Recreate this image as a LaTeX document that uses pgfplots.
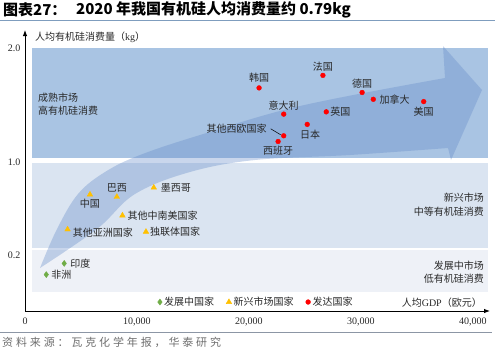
\documentclass[border=0pt]{standalone}
\usepackage{fontspec}
\setmainfont{Liberation Serif}
\newfontfamily\cjk{Noto Sans CJK SC}
\newfontfamily\cjkfoot{Noto Sans CJK SC}[LetterSpace=26]
\usepackage{pgfplots}
\usepackage{pgfplotstable}
\pgfplotsset{compat=1.18}
\usetikzlibrary{arrows.meta}
\definecolor{topband}{RGB}{169,196,227}
\definecolor{midband}{RGB}{218,228,241}
\definecolor{lowband}{RGB}{238,241,247}
\definecolor{arrowcol}{RGB}{100,138,200}
\definecolor{devgreen}{RGB}{112,173,71}
\definecolor{emyellow}{RGB}{255,192,0}
\definecolor{dvred}{RGB}{255,0,0}
\definecolor{titleline}{RGB}{127,157,190}
\definecolor{footline}{RGB}{140,150,165}
\definecolor{footgray}{RGB}{110,110,110}
\definecolor{txt}{RGB}{40,40,40}
\tikzset{lbl/.style={font=\cjk\fontsize{10}{12}\selectfont, text=txt, inner sep=1pt}}

% x: GDP per capita (EUR), y: silicone consumption per capita (kg)
\pgfplotstableread{
x y
1900 0.13
3500 0.17
}\developing
\pgfplotstableread{
x y
5800 0.72
8200 0.70
11500 0.78
8700 0.54
3800 0.42
10800 0.40
}\emerging
\pgfplotstableread{
x y
20900 1.65
26600 1.76
30100 1.61
31100 1.55
35600 1.53
23100 1.42
26900 1.44
25200 1.33
23100 1.23
22600 1.18
}\developed

\begin{document}
\begin{tikzpicture}
\useasboundingbox (0,0) rectangle (495pt,-351pt);
\begin{scope}[x=1pt,y=-1pt]
  \node[anchor=west, inner sep=0] at (3,10) {\cjk\bfseries\fontsize{15}{18}\selectfont 图表27：};
  \node[anchor=west, inner sep=0] at (76,10) {\cjk\bfseries\fontsize{15}{18}\selectfont 2020 年我国有机硅人均消费量约 0.79kg};
  \draw[titleline, line width=0.8pt] (0,20.5) -- (495,20.5);
  % bands
  \fill[topband] (32,48) rectangle (488,158);
  \fill[midband] (32,163) rectangle (488,248);
  \fill[lowband] (32,250) rectangle (488,292);
  % big arrow
  \fill[arrowcol, opacity=0.35] plot[smooth, tension=0.6] coordinates {(40,268) (57,229) (78,194) (105,172) (140,155) (200,135) (300,106) (445,78)}
     -- (443,46) -- (482,90) -- (451,160)
     -- plot[smooth, tension=0.6] coordinates {(448,148) (350,155) (255,160) (190,172) (135,194) (97,229) (40,268)} -- cycle;
  % region texts
  \node[lbl, anchor=west, align=left, font=\cjk\fontsize{10}{13}\selectfont] at (37,104.5) {成熟市场\\高有机硅消费};
  \node[lbl, anchor=east, align=right, font=\cjk\fontsize{10}{14}\selectfont] at (485,204.5) {新兴市场\\中等有机硅消费};
  \node[lbl, anchor=east, align=right, font=\cjk\fontsize{10}{13}\selectfont] at (485,272) {发展中市场\\低有机硅消费};
  % axis titles
  \node[lbl, anchor=west, inner sep=0] at (35,37) {人均有机硅消费量（{\rmfamily kg}）};
  \node[lbl, anchor=east, inner sep=0] at (482,303) {人均{\rmfamily GDP}（欧元）};
  % footer
  \draw[footline, line width=0.8pt] (0,332) -- (492,332);
  \node[anchor=west, inner sep=0, text=footgray] at (2,342) {\cjkfoot\fontsize{11}{13}\selectfont 资料来源：瓦克化学年报，华泰研究};
\end{scope}
\begin{axis}[
  at={(25pt,-311pt)}, anchor=south west,
  scale only axis, width=465pt, height=281pt,
  xmin=0, xmax=41520, ymin=0, ymax=2.158,
  y coord trafo/.code={\pgfmathparse{((#1)<=0.2)*280*(#1) + ((#1)>0.2)*((#1)<=1)*(56+116.25*((#1)-0.2)) + ((#1)>1)*(149+114*((#1)-1))}},
  y coord inv trafo/.code={\pgfmathparse{((#1)<=56)*(#1)/280 + ((#1)>56)*((#1)<=149)*(0.2+((#1)-56)/116.25) + ((#1)>149)*(1+((#1)-149)/114)}},
  axis lines=left,
  axis line style={-{Latex[length=6pt,width=4.5pt]}, black, line width=0.9pt},
  scaled x ticks=false,
  xtick={0,10000,20000,30000,40000},
  xticklabels={0,{10,000},{20,000},{30,000},{40,000}},
  ytick={0.2,1,2},
  yticklabels={0.2,1.0,2.0},
  major tick length=0pt,
  /pgf/number format/assume math mode=true,
  tick label style={font=\fontsize{10}{12}\selectfont, text=txt},
  xticklabel style={yshift=-3pt},
  yticklabel style={xshift=-1pt},
  clip=false,
  legend columns=3,
  legend style={at={(0.497,0.032)}, anchor=center, draw=none, fill=none,
    font=\cjk\fontsize{10}{12}\selectfont, text=txt,
    /tikz/every even column/.append style={column sep=10pt}},
]
\addplot[only marks, mark=diamond*, mark size=3pt, color=devgreen] table {\developing};
\addlegendentry{发展中国家}
\addplot[only marks, mark=triangle*, mark size=3.2pt, color=emyellow] table {\emerging};
\addlegendentry{新兴市场国家}
\addplot[only marks, mark=*, mark size=2.4pt, color=dvred] table {\developed};
\addlegendentry{发达国家}

% developing labels
\node[lbl, anchor=west, xshift=4pt] at (axis cs:1900,0.13) {非洲};
\node[lbl, anchor=west, xshift=5pt] at (axis cs:3500,0.17) {印度};
% emerging labels
\node[lbl, anchor=north, yshift=-3pt] at (axis cs:5800,0.72) {中国};
\node[lbl, anchor=south, yshift=3pt] at (axis cs:8200,0.70) {巴西};
\node[lbl, anchor=west, xshift=6pt] at (axis cs:11500,0.78) {墨西哥};
\node[lbl, anchor=west, xshift=4pt] at (axis cs:8700,0.54) {其他中南美国家};
\node[lbl, anchor=west, xshift=4pt, yshift=-3pt] at (axis cs:3800,0.42) {其他亚洲国家};
\node[lbl, anchor=west, xshift=3pt] at (axis cs:10800,0.40) {独联体国家};
% developed labels
\node[lbl, anchor=south, yshift=4pt] at (axis cs:20900,1.65) {韩国};
\node[lbl, anchor=south, yshift=3pt] at (axis cs:26600,1.76) {法国};
\node[lbl, anchor=south, yshift=3pt] at (axis cs:30100,1.61) {德国};
\node[lbl, anchor=west, xshift=5pt] at (axis cs:31100,1.55) {加拿大};
\node[lbl, anchor=north, yshift=-4pt] at (axis cs:35600,1.53) {美国};
\node[lbl, anchor=south, yshift=3pt] at (axis cs:23100,1.42) {意大利};
\node[lbl, anchor=west, xshift=3pt] at (axis cs:26900,1.44) {英国};
\node[lbl, anchor=north, xshift=3pt, yshift=-5pt] at (axis cs:25200,1.33) {日本};
\node[lbl, anchor=east, xshift=-16pt, yshift=7pt] at (axis cs:23100,1.23) {其他西欧国家};
\node[lbl, anchor=north, yshift=-3pt] at (axis cs:22600,1.18) {西班牙};
\draw[black, line width=0.5pt] (axis cs:23100,1.23) ++(-13pt,7pt) -- ++(10pt,-6pt);
\end{axis}
\end{tikzpicture}
\end{document}
